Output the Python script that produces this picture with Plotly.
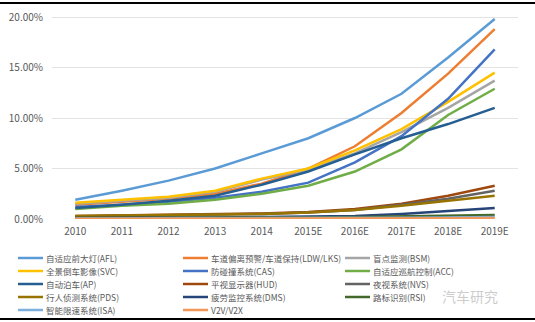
import plotly.graph_objects as go

years = ["2010", "2011", "2012", "2013", "2014", "2015E", "2016E", "2017E", "2018E", "2019E"]

names = ["自适应前大灯(AFL)", "车道偏离预警/车道保持(LDW/LKS)", "盲点监测(BSM)",
         "全景倒车影像(SVC)", "防碰撞系统(CAS)", "自适应巡航控制(ACC)",
         "自动泊车(AP)", "平视显示器(HUD)", "夜视系统(NVS)",
         "行人侦测系统(PDS)", "疲劳监控系统(DMS)", "路标识别(RSI)",
         "智能限速系统(ISA)", "V2V/V2X"]

afl = [1.9, 2.8, 3.8, 5.0, 6.5, 8.0, 10.0, 12.4, 16.0, 19.8]
ldw = [1.4, 1.7, 2.0, 2.5, 3.5, 5.0, 7.2, 10.5, 14.4, 18.8]
bsm = [1.5, 1.8, 2.1, 2.7, 3.9, 4.9, 6.5, 8.6, 11.0, 13.7]
svc = [1.6, 1.9, 2.2, 2.8, 4.0, 5.0, 6.8, 8.9, 11.6, 14.5]
cas = [1.2, 1.4, 1.7, 2.1, 2.7, 3.6, 5.6, 8.2, 11.9, 16.8]
acc = [1.0, 1.3, 1.5, 1.9, 2.5, 3.3, 4.7, 6.9, 10.3, 12.9]
ap = [1.1, 1.4, 1.8, 2.3, 3.4, 4.7, 6.4, 8.0, 9.4, 11.0]
hud = [0.3, 0.35, 0.4, 0.45, 0.55, 0.7, 1.0, 1.5, 2.3, 3.3]
nvs = [0.25, 0.3, 0.35, 0.4, 0.5, 0.65, 0.9, 1.4, 2.0, 2.8]
pds = [0.3, 0.35, 0.4, 0.45, 0.5, 0.65, 0.9, 1.3, 1.8, 2.3]
dms = [0.1, 0.1, 0.15, 0.15, 0.2, 0.25, 0.3, 0.5, 0.8, 1.1]
rsi = [0.1, 0.1, 0.1, 0.1, 0.15, 0.15, 0.2, 0.25, 0.3, 0.4]
isa = [0.05, 0.05, 0.05, 0.05, 0.08, 0.08, 0.1, 0.12, 0.15, 0.2]
v2v = [0.02, 0.02, 0.03, 0.03, 0.04, 0.05, 0.06, 0.07, 0.08, 0.1]

series = [afl, ldw, bsm, svc, cas, acc, ap, hud, nvs, pds, dms, rsi, isa, v2v]
colors = ["#5B9BD5", "#ED7D31", "#A5A5A5", "#FFC000", "#4472C4", "#70AD47",
          "#255E91", "#9E480E", "#636363", "#997300", "#264478", "#43682B",
          "#7CAFDD", "#F1975A"]

yticks = [0, 5, 10, 15, 20]
ytick_text = ["0.00%", "5.00%", "10.00%", "15.00%", "20.00%"]

font_family = "Noto Sans CJK SC, Noto Sans, sans-serif"
TEXT = "#595959"

# layout geometry (pixels)
W, H = 535, 322
L, R, T, B = 52, 17, 14, 103
PW, PH = W - L - R, H - T - B


def px(x):
    return (x - L) / PW


def py(y):
    return (H - B - y) / PH


fig = go.Figure()
for name, vals, c in zip(names, series, colors):
    fig.add_trace(go.Scatter(x=years, y=vals, name=name, mode="lines",
                             line=dict(color=c, width=2.5), showlegend=False))

shapes = [
    dict(type="line", xref="paper", yref="paper", x0=px(-5), x1=px(W + 5),
         y0=py(3), y1=py(3), line=dict(color="black", width=2)),
    dict(type="line", xref="paper", yref="paper", x0=px(-5), x1=px(W + 5),
         y0=py(319), y1=py(319), line=dict(color="black", width=2)),
]
annotations = []

# legend (3 columns, row-major like the original)
col_x = [18, 183, 345]
row_y0, row_dy = 258, 13
for i, (name, c) in enumerate(zip(names, colors)):
    r, k = divmod(i, 3)
    x0 = col_x[k]
    y = row_y0 + r * row_dy
    shapes.append(dict(type="line", xref="paper", yref="paper",
                       x0=px(x0), x1=px(x0 + 25), y0=py(y), y1=py(y),
                       line=dict(color=c, width=2.5)))
    annotations.append(dict(text=name, xref="paper", yref="paper",
                            x=px(x0 + 26), y=py(y), xanchor="left", yanchor="middle",
                            showarrow=False,
                            font=dict(size=8.5, color=TEXT, family=font_family)))

# faint watermark
annotations.append(dict(text="汽车研究", xref="paper", yref="paper", x=px(470),
                        y=py(296), showarrow=False, xanchor="center", yanchor="middle",
                        font=dict(size=14, color="rgba(195,195,195,0.85)", family=font_family)))

fig.update_layout(
    width=W, height=H,
    margin=dict(l=L, r=R, t=T, b=B, autoexpand=False),
    paper_bgcolor="white", plot_bgcolor="white",
    font=dict(family=font_family, color=TEXT, size=10),
    xaxis=dict(type="category", range=[-0.5, 9.5], showgrid=False, showline=False,
               zeroline=False, ticks="", ticklabelstandoff=5,
               tickfont=dict(size=10, color=TEXT)),
    yaxis=dict(range=[0, 20.3], tickvals=yticks, ticktext=ytick_text,
               showgrid=True, gridcolor="#E3E3E3", gridwidth=1, zeroline=False,
               showline=False, ticks="", ticklabelstandoff=8,
               tickfont=dict(size=10, color=TEXT)),
    showlegend=False,
    shapes=shapes,
    annotations=annotations,
)

fig.write_html("out.html")
